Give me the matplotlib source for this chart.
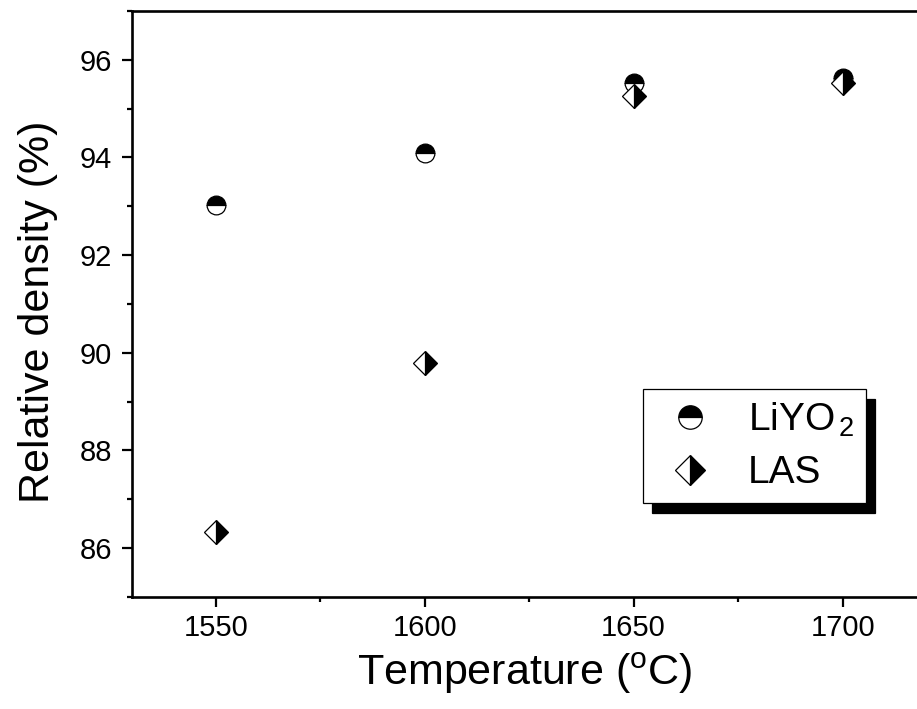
import matplotlib
matplotlib.use("Agg")
import matplotlib.pyplot as plt
from matplotlib.patches import Shadow
from matplotlib.ticker import MultipleLocator

plt.rcParams["font.family"] = ["Liberation Sans", "DejaVu Sans"]
plt.rcParams["mathtext.fontset"] = "custom"
plt.rcParams["mathtext.rm"] = "Liberation Sans"
plt.rcParams["mathtext.it"] = "Liberation Sans"
plt.rcParams["mathtext.default"] = "regular"

# Sintering temperature (°C) and relative density (%)
temperature = [1550, 1600, 1650, 1700]
density_liyo2 = [93.02, 94.09, 95.52, 95.62]
density_las = [86.33, 89.80, 95.25, 95.52]

label_liyo2 = r"LiYO$_{\,2}$"
label_las = "LAS"

fig = plt.figure(figsize=(9.17, 7.09), dpi=100)
ax = fig.add_axes([0.144, 0.158, 0.866, 0.8265])

ax.plot(temperature, density_liyo2, linestyle="none", marker="o",
        markersize=13.5, fillstyle="top", markerfacecolor="black",
        markerfacecoloralt="white", markeredgecolor="black",
        markeredgewidth=0.9, label=label_liyo2, zorder=3)
ax.plot(temperature, density_las, linestyle="none", marker="D",
        markersize=12, fillstyle="right", markerfacecolor="black",
        markerfacecoloralt="white", markeredgecolor="black",
        markeredgewidth=0.9, label=label_las, zorder=4)

ax.set_xlim(1530, 1720)
ax.set_ylim(85, 97)
ax.xaxis.set_major_locator(MultipleLocator(50))
ax.xaxis.set_minor_locator(MultipleLocator(25))
ax.yaxis.set_major_locator(MultipleLocator(2))
ax.yaxis.set_minor_locator(MultipleLocator(1))

for side in ("left", "bottom", "top"):
    ax.spines[side].set_linewidth(1.9)
ax.spines["right"].set_visible(False)

ax.tick_params(axis="both", which="major", direction="out", length=7.5,
               width=1.6, labelsize=21)
ax.tick_params(axis="both", which="minor", direction="out", length=3.8,
               width=1.6)
ax.tick_params(axis="x", which="major", pad=5)
ax.tick_params(axis="y", which="major", pad=7)

ax.set_xlabel(r"Temperature ($^{o}$C)", fontsize=31)
ax.set_ylabel("Relative density (%)", fontsize=31)
ax.xaxis.set_label_coords(0.495, -0.092)
ax.yaxis.set_label_coords(-0.093, 0.486)

leg = ax.legend(loc="upper left", bbox_to_anchor=(643 / 917, 1 - 389 / 709),
                bbox_transform=fig.transFigure, borderaxespad=0,
                fontsize=28, frameon=True, fancybox=False, framealpha=1,
                edgecolor="black", handlelength=1.8, handletextpad=0.6,
                borderpad=0.3, labelspacing=0.42, markerscale=1.25)
leg.get_frame().set_linewidth(0.9)
leg.set_zorder(6)

# Solid black drop shadow offset down and to the right of the legend box
shadow = Shadow(leg.legendPatch, 6.5, -7.0, facecolor="black",
                edgecolor="black", alpha=1)
shadow.set_zorder(5.5)
ax.add_artist(shadow)

fig.canvas.draw()
fig.savefig("out.png", dpi=100)
